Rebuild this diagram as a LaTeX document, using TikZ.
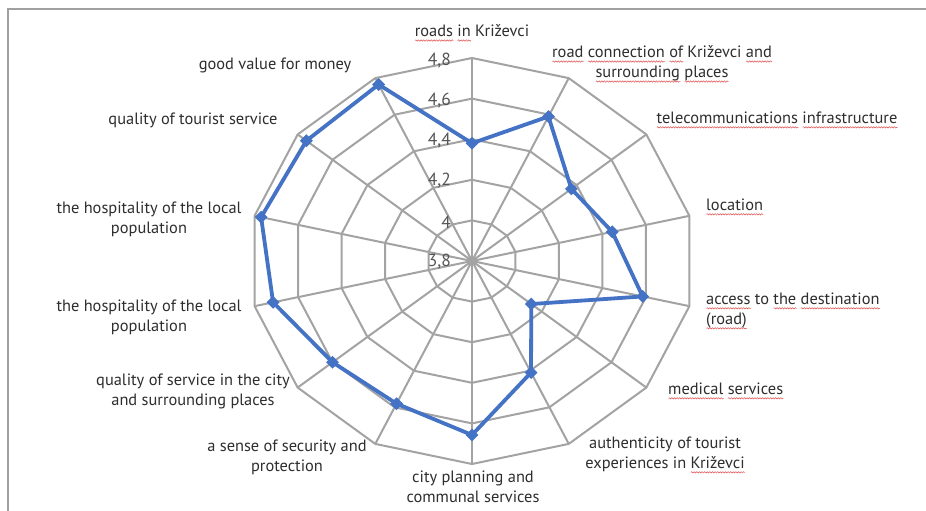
\documentclass[tikz,border=0pt]{standalone}
\usepackage{fontspec}
\setmainfont{PT Sans}
\usetikzlibrary{shapes.geometric,decorations.pathmorphing}
\definecolor{gridgray}{HTML}{A3A3A3}
\definecolor{framegray}{HTML}{A0A0A0}
\definecolor{serblue}{HTML}{4472C4}
\definecolor{txt}{HTML}{2E2E2E}
\definecolor{tickc}{HTML}{555555}
\definecolor{spellred}{HTML}{E05050}
\newlength\wvlen
\newcommand\wv[1]{\settowidth\wvlen{#1}\rlap{\tikz[baseline=0pt,x=1pt,y=1pt]\draw[spellred, line width=0.5pt, decorate, decoration={snake, amplitude=0.7pt, segment length=2.6pt}] (0,-4) -- (\wvlen,-4);}#1}
\newcommand\mylabfont{\fontsize{16.4}{20}\selectfont}
\newcommand\mytickfont{\fontsize{17.5}{20}\selectfont}
\begin{document}
\begin{tikzpicture}[x=1pt,y=-1pt,
  gridline/.style={draw=gridgray, line width=2pt, line join=round},
  series/.style={draw=serblue, line width=3.8pt, line join=round},
  dmark/.style={diamond, fill=serblue, inner sep=0pt, minimum size=13pt},
  lab/.style={text=txt, font=\mylabfont, inner sep=0pt, align=center},
  tick/.style={text=tickc, font=\mytickfont, inner sep=0pt, anchor=east}]
\useasboundingbox[fill=white] (0,0) rectangle (926,511);
% frame
\draw[framegray, line width=2pt] (8,511) -- (8,9) -- (926,9);
% centre
\coordinate (c) at (472,261);
% outer vertices and spokes
\foreach \i in {0,...,13}{
  \coordinate (v\i) at ({472+223*cos(90-\i*360/14)},{261-203*sin(90-\i*360/14)});
  \draw[gridline] (c) -- (v\i);
}
% rings
\foreach \k in {1,...,5}{
  \draw[gridline] plot[samples at={0,...,14}, variable=\t]
    ({472+223*\k/5*cos(90-\t*360/14)},{261-203*\k/5*sin(90-\t*360/14)});
}
% tick labels
\node[tick] (t0) at (451,262) {3,8};
\node[tick] (t1) at (451,222) {4};
\node[tick] (t2) at (451,181) {4,2};
\node[tick] (t3) at (451,141) {4,4};
\node[tick] (t4) at (451,101) {4,6};
\node[tick] (t5) at (451,61) {4,8};
% data
\foreach \v [count=\i from 0] in {0.58,0.79,0.57,0.645,0.785,0.34,0.61,0.857,0.78,0.80,0.915,0.97,0.95,0.965}{
  \coordinate (p\i) at ({472+223*\v*cos(90-\i*360/14)},{261-203*\v*sin(90-\i*360/14)});
}
\draw[series] (p0) -- (p1) -- (p2) -- (p3) -- (p4) -- (p5) -- (p6) -- (p7)
  -- (p8) -- (p9) -- (p10) -- (p11) -- (p12) -- (p13) -- cycle;
\foreach \i in {0,...,13}{
  \node[dmark] (m\i) at (p\i) {};
}
% category labels
\node[lab] (l0) at (472,33) {\wv{roads} \wv{in} Križevci};
\node[lab] (l1) at (662,64) {\wv{road} \wv{connection} \wv{of} Križevci \wv{and}\\ \wv{surrounding} \wv{places}};
\node[lab] (l2) at (777,120) {\wv{telecommunications} \wv{infrastructure}};
\node[lab, anchor=west] (l3) at (706,207) {\wv{location}};
\node[lab, anchor=west, align=left] (l4) at (706,311) {\wv{access} to \wv{the} \wv{destination}\\ \wv{(road)}};
\node[lab, anchor=west] (l5) at (668,391) {\wv{medical} \wv{services}};
\node[lab] (l6) at (665,455) {authenticity of tourist\\ experiences in \wv{Križevci}};
\node[lab] (l7) at (473,487) {city planning and\\ communal services};
\node[lab] (l8) at (287,457) {a sense of security and\\ protection};
\node[lab] (l9) at (193,391) {quality of service in the city\\ and surrounding places};
\node[lab] (l10) at (149,317) {the hospitality of the local\\ population};
\node[lab] (l11) at (149,219) {the hospitality of the local\\ population};
\node[lab] (l12) at (193,120) {quality of tourist service};
\node[lab] (l13) at (275,65) {good value for money};
\end{tikzpicture}
\end{document}
